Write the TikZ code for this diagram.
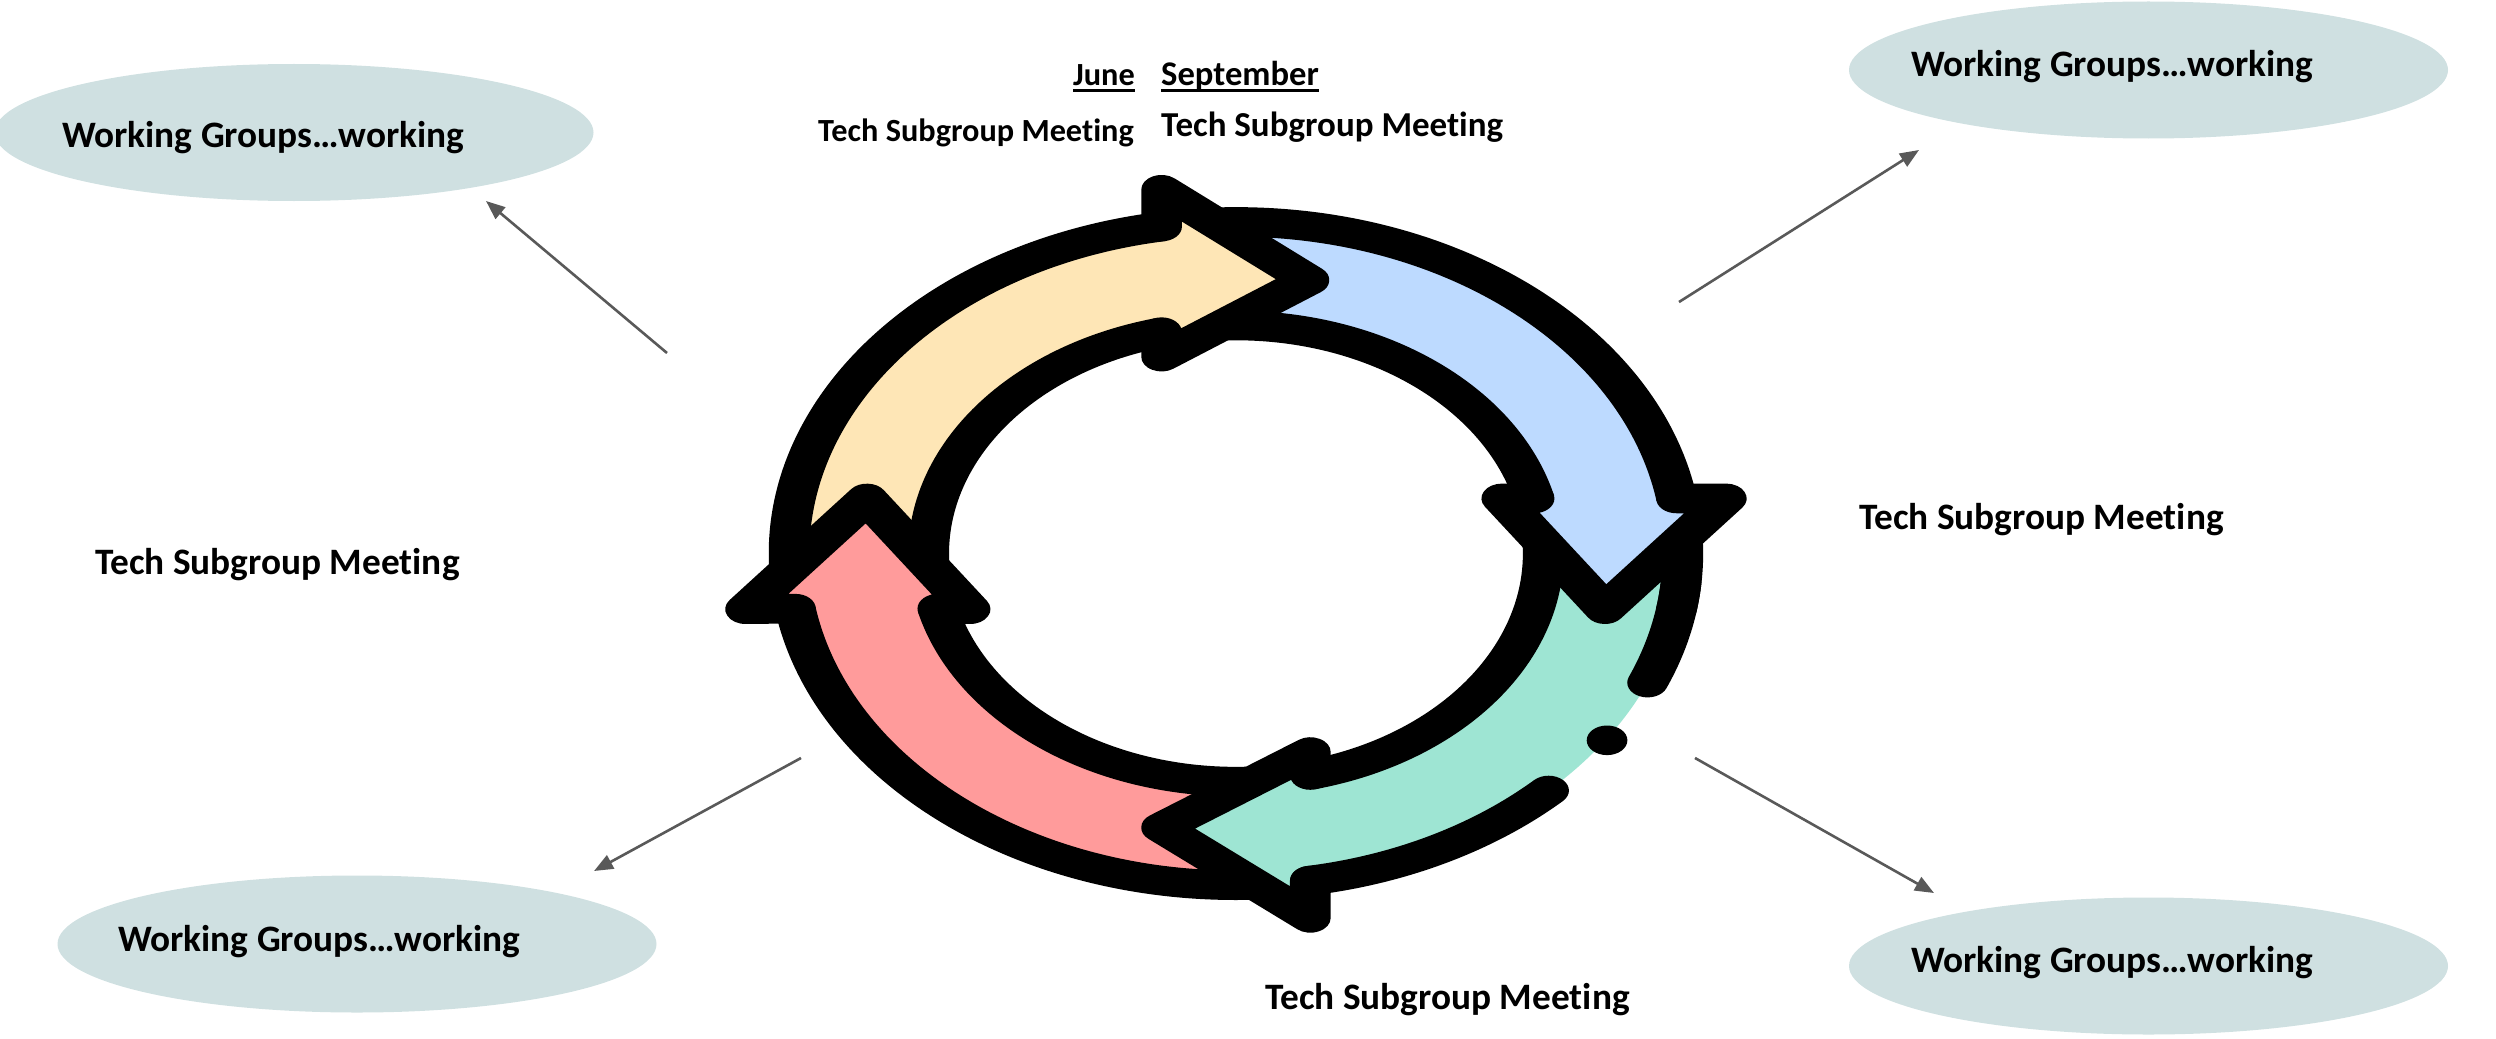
\documentclass[tikz,border=0pt]{standalone}
\usepackage{fontspec}
\setmainfont[Ligatures=NoCommon]{Carlito}
\usetikzlibrary{arrows.meta,shapes.geometric,calc}
\definecolor{ylw}{HTML}{FEE6B6}
\definecolor{blu}{HTML}{BDDAFF}
\definecolor{grn}{HTML}{9EE5D3}
\definecolor{rdd}{HTML}{FF9B9B}
\definecolor{cloud}{HTML}{CFE0E1}
\definecolor{arrowgrey}{HTML}{595959}
\tikzset{
  bubble/.style={ellipse,fill=cloud,draw=none,minimum width=599pt,minimum height=137pt,inner sep=0pt},
  lbl/.style={font=\fontsize{37.3}{44}\selectfont\bfseries,inner sep=0pt,text=black},
  lblmid/.style={font=\fontsize{35}{42}\selectfont\bfseries,inner sep=0pt,text=black},
  lblsmall/.style={font=\fontsize{32.3}{38}\selectfont\bfseries,inner sep=0pt,text=black},
  pointer/.style={draw=arrowgrey,line width=2.6pt,-{Triangle[length=19pt,width=15pt]}},
  ink/.style={draw=black,line width=58pt,line join=round,line cap=round},
  inkb/.style={draw=black,line width=58pt,line join=round,line cap=butt},
}
\newsavebox\ulbox
\newcommand\thickul[1]{\sbox\ulbox{#1}\rlap{\raisebox{-6.5pt}{\rule{\wd\ulbox}{3.2pt}}}\usebox\ulbox}
\newcommand\bandfill[5]{\fill[#1] ($(c)+(#2:637 and 650)$) arc[start angle=#2,end angle=#3,x radius=637,y radius=650]
  -- ($(c)+(#4:438 and 447)$) arc[start angle=#4,end angle=#5,x radius=438,y radius=447] -- cycle;}
\newcommand\outerarc[3]{\draw[#1] ($(c)+(#2:637 and 650)$) arc[start angle=#2,end angle=#3,x radius=637,y radius=650];}
\newcommand\innerarc[3]{\draw[#1] ($(c)+(#2:438 and 447)$) arc[start angle=#2,end angle=#3,x radius=438,y radius=447];}
\begin{document}
\begin{tikzpicture}[x=1pt,y=-1pt]
\useasboundingbox (0,0) rectangle (2496,1038);
% ring icon, drawn in its own unstretched coordinates
\begin{scope}[transform canvas={shift={(700pt,-150pt)},xscale=0.7015,yscale=0.5102}]
\coordinate (c) at (764,791);
% bands (each runs a little way into its own head, so no seam shows)
\bandfill{ylw}{266}{177}{177}{262}
\bandfill{blu}{268}{356}{352}{268}
\bandfill{grn}{86}{-2}{-2}{82}
\bandfill{rdd}{176}{88}{88}{172}
% head fills
\fill[ylw] (658,78) -- (868,255) -- (658,405) -- cycle;
\fill[blu] (1463,683) -- (1290,900) -- (1143,683) -- cycle;
\fill[grn] (870,1505) -- (658,1328) -- (870,1180) -- cycle;
\fill[rdd] (65,900) -- (238,683) -- (385,900) -- cycle;
% outlines
\outerarc{inkb}{177}{260.4}
\innerarc{inkb}{177}{256}
\outerarc{inkb}{268}{350.4}
\innerarc{inkb}{268}{346}
\innerarc{inkb}{-2}{76}
\outerarc{inkb}{88}{170.4}
\innerarc{inkb}{88}{166}
\outerarc{inkb}{-2}{10}
\outerarc{ink}{5}{22.9}
\outerarc{ink}{45.6}{80.4}
\fill[black] (1293,1157) circle[radius=29];
% heads
\draw[ink] (658,150) -- (658,78) -- (868,255) -- (658,405) -- (658,357);
\draw[ink] (1392,683) -- (1463,683) -- (1290,900) -- (1143,683) -- (1189,683);
\draw[ink] (870,1432) -- (870,1505) -- (658,1328) -- (870,1180) -- (870,1225);
\draw[ink] (136,899) -- (65,900) -- (238,683) -- (385,900) -- (339,899);
\end{scope}
% bubbles
\node[bubble] (b1) at (294,132.5) {};
\node[bubble] (b2) at (2148.5,70) {};
\node[bubble] (b3) at (357,944) {};
\node[bubble] (b4) at (2148.5,966) {};
\node[lbl,anchor=base west] (w1) at (62,147) {Working Groups…working};
\node[lbl,anchor=base west] (w2) at (1911,77) {Working Groups…working};
\node[lbl,anchor=base west] (w3) at (118,951) {Working Groups…working};
\node[lbl,anchor=base west] (w4) at (1911,972) {Working Groups…working};
% labels
\node[lblsmall,anchor=base east] (june) at (1135,86) {\thickul{June}};
\node[font=\fontsize{34.6}{42}\selectfont\bfseries,inner sep=0pt,anchor=base west] (sept) at (1161,86) {\thickul{September}};
\node[lblsmall,anchor=base east] (t1) at (1134,141) {Tech Subgroup Meeting};
\node[lblmid,anchor=base west] (t2) at (1161,136) {Tech Subgroup Meeting};
\node[lbl,anchor=base west] (t3) at (95,574) {Tech Subgroup Meeting};
\node[lbl,anchor=base west] (t4) at (1859,529) {Tech Subgroup Meeting};
\node[lbl,anchor=base west] (t5) at (1265,1009) {Tech Subgroup Meeting};
% pointers
\coordinate (p1a) at (667,353); \coordinate (p1b) at (486,201);
\coordinate (p2a) at (1679,302); \coordinate (p2b) at (1919,150);
\coordinate (p3a) at (801,758); \coordinate (p3b) at (594,871);
\coordinate (p4a) at (1695,758); \coordinate (p4b) at (1934,893);
\draw[pointer] (p1a) -- (p1b);
\draw[pointer] (p2a) -- (p2b);
\draw[pointer] (p3a) -- (p3b);
\draw[pointer] (p4a) -- (p4b);
\end{tikzpicture}
\end{document}
